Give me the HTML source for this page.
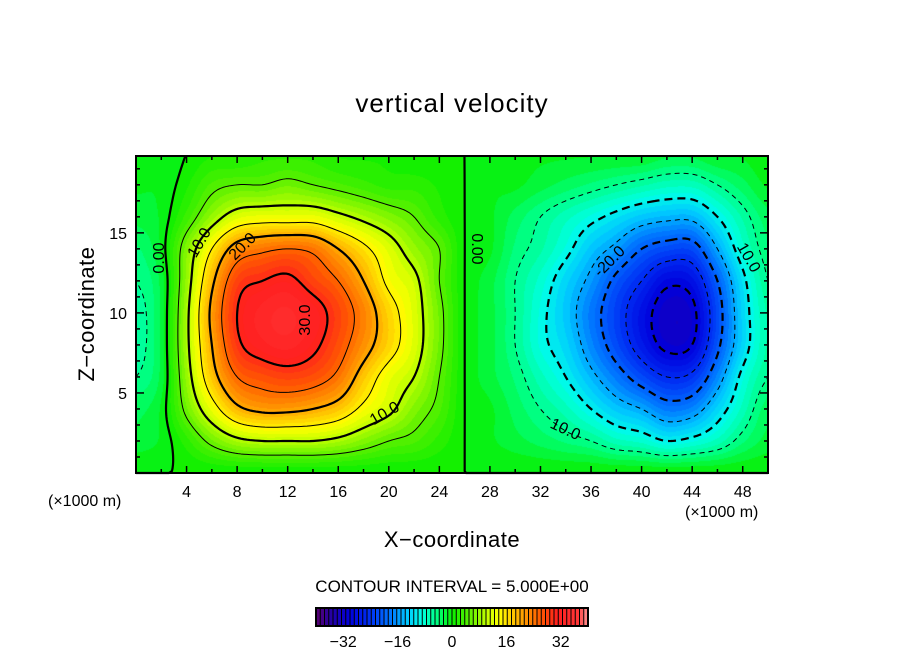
<!DOCTYPE html>
<html><head><meta charset="utf-8"><style>
html,body{margin:0;padding:0;background:#fff;}
body{width:904px;height:654px;position:relative;overflow:hidden;font-family:"Liberation Sans",sans-serif;}
#plot{position:absolute;left:136px;top:156px;}
svg{position:absolute;left:0;top:0;}
</style></head><body>
<canvas id="plot" width="632" height="317"></canvas>
<svg id="svg" width="904" height="654"></svg>
<script>
// grid coordinates (km) and vertical velocity values
const xCoords=[0,2,4,6,8,10,12,14,16,18,20,22,24,26,28,30,32,34,36,38,40,42,44,46,48,50];
const zCoords=[0,2,4,6,8,10,12,14,16,18,20];
const w_z0 =[0,0,0,0,0,0,0,0,0,0,0,0,0, 0, 0,0,0,0,0,0,0,0,0,0,0,0];
const w_z2 =[-2,-1,2,6,9,10,10,10,9,7,5,4,2, 0, -1,-2,-3,-4,-5,-7,-8,-10,-9,-7,-4,-2];
const w_z4 =[-3,-1,6,13,19,21,21,20,18,14,11,7,4, 0, -1,-3,-5,-7,-10,-13,-15,-18,-17,-12,-7,-3];
const w_z6 =[-5,-2,8,18,25,27,28,27,24,18,13,10,5, 0, -2,-4,-7,-10,-14,-18,-22,-25,-24,-17,-9,-5];
const w_z8 =[-6,-2,9,20,29,32,33,31,27,22,17,12,6, 0, -2,-5,-9,-12,-17,-22,-27,-31,-30,-21,-12,-6];
const w_z10=[-6,-2,9,21,30,33,34,32,28,23,17,12,6, 0, -2,-5,-9,-13,-18,-23,-28,-32,-31,-22,-12,-6];
const w_z12=[-5,-2,8,19,28,30,31,28,25,20,14,11,5, 0, -2,-5,-8,-12,-16,-21,-25,-29,-28,-20,-11,-5];
const w_z14=[-4,-1,7,15,22,24,25,24,20,16,12,8,5, 0, -1,-4,-6,-9,-13,-16,-20,-22,-22,-15,-8,-4];
const w_z16=[-2,-1,3,8,12,13,13,13,11,9,7,5,2, 0, -1,-3,-5,-7,-9,-11,-13,-14,-14,-10,-6,-3];
const w_z18=[-1,-1,1,4,5,5,6,5,4,3,2,2,1, 0, -1,-1,-2,-3,-4,-5,-6,-7,-7,-5,-3,-1];
const w_z20=[0,-1,0,1,1,2,2,2,1,1,1,0,0, 0, -1,-1,-1,-1,-1,-1,-1,-2,-2,-1,-1,0];
const xTicks=[4,8,12,16,20,24,28,32,36,40,44,48];
const zTicks=[5,10,15];
const cbTicks=[-32,-16,0,16,32];
const contourLevels=[-30,-25,-20,-15,-10,-5,0,5,10,15,20,25,30];

const grid=[w_z0,w_z2,w_z4,w_z6,w_z8,w_z10,w_z12,w_z14,w_z16,w_z18,w_z20];
const PX=136,PY=156,PW=632,PH=317,XMAX=50,ZMAX=19.8;
const sx=x=>PX+x/XMAX*PW, sz=z=>PY+PH-z/ZMAX*PH;
function cr(p0,p1,p2,p3,t){return 0.5*(2*p1+(-p0+p2)*t+(2*p0-5*p1+4*p2-p3)*t*t+(-p0+3*p1-3*p2+p3)*t*t*t);}
function val(x,z){
  const nx=xCoords.length,nz=zCoords.length;
  let fx=x/(xCoords[1]-xCoords[0]), fz=z/(zCoords[1]-zCoords[0]);
  fx=Math.max(0,Math.min(nx-1.0001,fx)); fz=Math.max(0,Math.min(nz-1.0001,fz));
  const i=Math.floor(fx),j=Math.floor(fz),tx=fx-i,tz=fz-j;
  const g=(a,b)=>grid[Math.max(0,Math.min(nz-1,b))][Math.max(0,Math.min(nx-1,a))];
  const r=[];
  for(let k=-1;k<=2;k++) r.push(cr(g(i-1,j+k),g(i,j+k),g(i+1,j+k),g(i+2,j+k),tx));
  return cr(r[0],r[1],r[2],r[3],tz);
}
const stops=[[-40,90,0,110],[-36,40,0,160],[-30,0,0,220],[-24,0,50,245],[-18,0,120,255],[-13,0,200,255],[-9,0,255,230],[-4,0,255,120],[0,10,240,0],[5,90,240,0],[10,190,255,0],[14,255,255,0],[20,255,170,0],[26,255,90,0],[31,255,30,30],[37,255,55,55],[40,255,150,150]];
function color(v){
  v=Math.floor(v*0.8)/0.8+0.6;
  if(v<=stops[0][0])return stops[0].slice(1);
  for(let k=1;k<stops.length;k++){if(v<=stops[k][0]){const a=stops[k-1],b=stops[k],t=(v-a[0])/(b[0]-a[0]);return [0,1,2].map(c=>Math.round(a[c+1]+(b[c+1]-a[c+1])*t));}}
  return stops[stops.length-1].slice(1);
}
// heatmap
const cv=document.getElementById('plot'),ctx=cv.getContext('2d'),img=ctx.createImageData(PW,PH);
for(let py=0;py<PH;py++)for(let px=0;px<PW;px++){
  const x=(px+0.5)/PW*XMAX,z=(PH-py-0.5)/PH*ZMAX,c=color(val(x,z)),o=(py*PW+px)*4;
  img.data[o]=c[0];img.data[o+1]=c[1];img.data[o+2]=c[2];img.data[o+3]=255;}
ctx.putImageData(img,0,0);

const svg=document.getElementById('svg'),NS='http://www.w3.org/2000/svg';
function el(t,a,p){const e=document.createElementNS(NS,t);for(const k in a)e.setAttribute(k,a[k]);(p||svg).appendChild(e);return e;}
// contours (marching squares, chained into polylines)
const STEP=3,NXs=Math.ceil(PW/STEP),NZs=Math.ceil(PH/STEP),F=[];
for(let j=0;j<=NZs;j++){F.push([]);for(let i=0;i<=NXs;i++){F[j].push(val(Math.min(PW,i*STEP)/PW*XMAX,(PH-Math.min(PH,j*STEP))/PH*ZMAX));}}
const cg=el('g',{});

contourLevels.forEach(L=>{
  const segs=[];
  const P=(i,j)=>[PX+Math.min(PW,i*STEP),PY+Math.min(PH,j*STEP)];
  for(let j=0;j<NZs;j++)for(let i=0;i<NXs;i++){
    const a=F[j][i],b=F[j][i+1],c=F[j+1][i+1],e=F[j+1][i];
    const pts=[];
    const edge=(v1,v2,p1,p2)=>{if((v1<L)!==(v2<L)){const t=(L-v1)/(v2-v1);pts.push([+(p1[0]+(p2[0]-p1[0])*t).toFixed(2),+(p1[1]+(p2[1]-p1[1])*t).toFixed(2)]);}};
    edge(a,b,P(i,j),P(i+1,j));edge(b,c,P(i+1,j),P(i+1,j+1));edge(c,e,P(i+1,j+1),P(i,j+1));edge(e,a,P(i,j+1),P(i,j));
    for(let k=0;k+1<pts.length;k+=2)segs.push([pts[k],pts[k+1]]);
  }
  const key=p=>p[0]+','+p[1];
  const adj=new Map();
  segs.forEach((s,idx)=>{[0,1].forEach(e=>{const k=key(s[e]);if(!adj.has(k))adj.set(k,[]);adj.get(k).push(idx);});});
  const used=new Array(segs.length).fill(false);
  let d='';
  function walk(start){
    let pts=[segs[start][0],segs[start][1]];used[start]=true;
    for(const dir of [1,0]){
      while(true){
        const end=dir?pts[pts.length-1]:pts[0];
        const nb=(adj.get(key(end))||[]).find(n=>!used[n]);
        if(nb===undefined)break;used[nb]=true;
        const s=segs[nb],nxt=key(s[0])===key(end)?s[1]:s[0];
        if(dir)pts.push(nxt);else pts.unshift(nxt);
      }
    }
    return pts;
  }
  for(let s=0;s<segs.length;s++){if(used[s])continue;const pts=walk(s);
    d+='M'+pts.map(p=>p[0]+' '+p[1]).join('L');}
  const major=L%10===0;
  const p=el('path',{d:d,stroke:'#000','stroke-width':major?2.2:1,fill:'none','stroke-linejoin':'round'},cg);
  if(L<0)p.setAttribute('stroke-dasharray',major?'8 5':'5 4');
  
  
});
// contour labels
[["0.00",160,258,-90],["10.0",200,243,-60],["20.0",243,247,-45],["30.0",306,320,-90],["10.0",385,414,-30],["0.00",476,249,90],["-20.0",610,262,-45],["10.0",748,258,60],["10.0",565,430,25]].forEach(l=>{
  const t=el('text',{x:l[1],y:l[2],'font-size':16,'text-anchor':'middle','dominant-baseline':'middle',transform:`rotate(${l[3]} ${l[1]} ${l[2]})`});
  t.textContent=l[0];
  
  
});
// frame
const fr=el('rect',{x:PX,y:PY,width:PW,height:PH,fill:'none',stroke:'#000','stroke-width':2});

// ticks
for(let x=2;x<XMAX;x+=2){const L=x%4===0?7:4;
  el('line',{x1:sx(x),x2:sx(x),y1:PY+PH,y2:PY+PH-L,stroke:'#000','stroke-width':1.5});
  el('line',{x1:sx(x),x2:sx(x),y1:PY,y2:PY+L,stroke:'#000','stroke-width':1.5});}
for(let z=1;z<ZMAX;z+=1){const L=z%5===0?8:4;
  el('line',{x1:PX,x2:PX+L,y1:sz(z),y2:sz(z),stroke:'#000','stroke-width':1.5});
  el('line',{x1:PX+PW,x2:PX+PW-L,y1:sz(z),y2:sz(z),stroke:'#000','stroke-width':1.5});}
xTicks.forEach(x=>{const t=el('text',{x:sx(x),y:497,'font-size':16,'text-anchor':'middle'});t.textContent=x;
  });
zTicks.forEach(z=>{const t=el('text',{x:127,y:sz(z)+6,'font-size':16,'text-anchor':'end'});t.textContent=z;
  });
// colorbar
const CB0=316,CB1=588,CBY=608,CBH=18,VMIN=-40,VMAX=40,NB=64;
const cbg=el('g',{});
for(let k=0;k<NB;k++){const v=VMIN+(k+0.5)*(VMAX-VMIN)/NB,c=color(v),w=(CB1-CB0)/NB;
  el('rect',{x:CB0+k*w,y:CBY,width:w,height:CBH,fill:`rgb(${c})`},cbg);
  if(k>0)el('line',{x1:CB0+k*w,x2:CB0+k*w,y1:CBY,y2:CBY+CBH,stroke:'#000','stroke-width':1},cbg);}
el('rect',{x:CB0,y:CBY,width:CB1-CB0,height:CBH,fill:'none',stroke:'#000','stroke-width':2},cbg);
cbTicks.forEach(v=>{const t=el('text',{x:CB0+(v-VMIN)/(VMAX-VMIN)*(CB1-CB0),y:647,'font-size':16,'text-anchor':'middle'});t.textContent=v<0?'\u2212'+(-v):v;
  });
</script>
<svg width="904" height="654" style="pointer-events:none">
<text x="452" y="112" font-size="26" letter-spacing="1" text-anchor="middle" font-family="Liberation Sans">vertical velocity</text>
<text x="0" y="0" font-size="22" letter-spacing="0.5" text-anchor="middle" font-family="Liberation Sans" transform="translate(94 314) rotate(-90)">Z−coordinate</text>
<text x="452" y="547" font-size="22" letter-spacing="0.5" text-anchor="middle" font-family="Liberation Sans">X−coordinate</text>
<text x="48" y="506" font-size="16" font-family="Liberation Sans">(×1000 m)</text>
<text x="685" y="517" font-size="16" font-family="Liberation Sans">(×1000 m)</text>
<text x="452" y="592" font-size="17" text-anchor="middle" font-family="Liberation Sans">CONTOUR INTERVAL = 5.000E+00</text>
</svg>
</body></html>
